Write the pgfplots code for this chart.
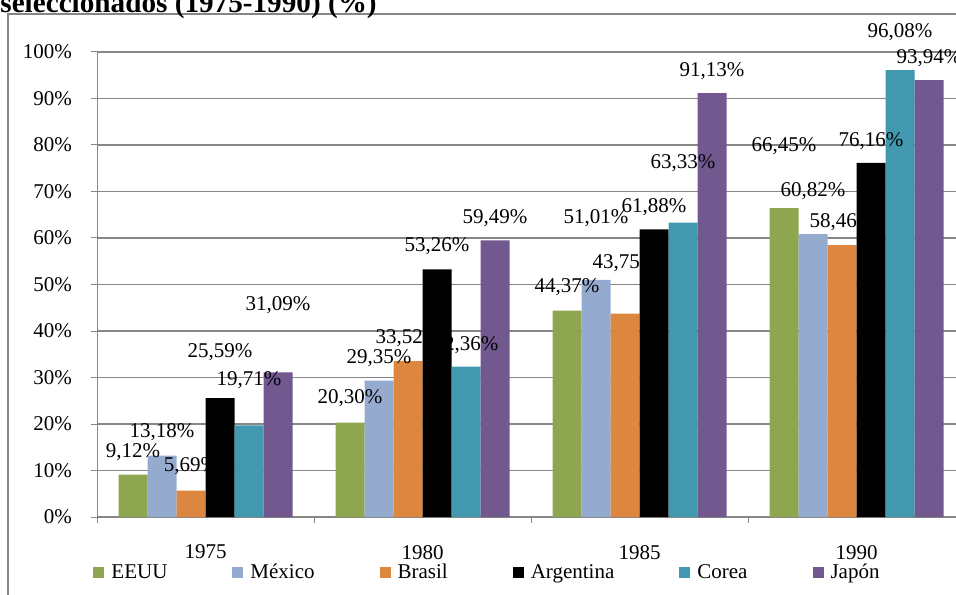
\documentclass[border=0pt]{standalone}
\usepackage{pgfplots}
\pgfplotsset{compat=1.18}
\usepackage{fontspec}
\setmainfont{Liberation Serif}
\definecolor{cEEUU}{HTML}{8DA64F}
\definecolor{cMex}{HTML}{95AACF}
\definecolor{cBra}{HTML}{DD8640}
\definecolor{cArg}{HTML}{000000}
\definecolor{cCor}{HTML}{4198AF}
\definecolor{cJap}{HTML}{71588F}
\definecolor{gridc}{HTML}{868686}
\newcommand{\lab}[3]{\node[font=\fontsize{10.5}{12}\selectfont, inner sep=0pt] at (axis cs:#1,#2) {#3};}
\begin{document}
\begin{tikzpicture}
\draw[gridc, line width=1pt] (3.75pt,-20pt) rectangle (520pt,290pt);
\node[anchor=base west, inner sep=0pt, font=\bfseries\fontsize{14.6}{17}\selectfont] at (0pt,290.5pt) {seleccionados (1975-1990) (\%)};
\begin{axis}[
  at={(48.5pt,38.5pt)}, anchor=south west,
  scale only axis, width=434pt, height=232.5pt,
  xmin=-0.5, xmax=3.5, ymin=0, ymax=100,
  enlargelimits=false, clip=false,
  axis lines=left, axis line style={-},
  x axis line style={gridc, line width=1pt},
  y axis line style={gridc, line width=0.5pt},
  ybar=0pt, bar width=14.5pt,
  ytick={0,10,...,100},
  yticklabels={0\%,10\%,20\%,30\%,40\%,50\%,60\%,70\%,80\%,90\%,100\%},
  xtick={0,1,2,3}, xticklabels={1975,1980,1985,1990},
  minor xtick={-0.5,0.5,1.5,2.5,3.5},
  tick align=outside, major tick length=3pt, minor tick length=3pt,
  x tick style={draw=none},
  minor x tick style={draw=gridc, line width=0.5pt},
  y tick style={gridc, line width=0.5pt},
  ymajorgrids, grid style={gridc, line width=0.6pt},
  xticklabel shift=7.5pt, yticklabel shift=6pt,
  tick label style={font=\fontsize{10.5}{12}\selectfont},
  /pgf/number format/assume math mode=true,
  legend columns=6,
  legend style={draw=none, fill=none, inner sep=0pt, at={(axis description cs:-0.0045,-0.1204)}, anchor=west,
    font=\fontsize{10.5}{12}\selectfont,
    /tikz/every odd column/.append style={column sep=1.5pt},
    /tikz/every even column/.append style={column sep=30.5pt}},
  legend image code/.code={\fill[#1, draw=none] (0pt,-2.75pt) rectangle (5.5pt,2.75pt);},
]
\addplot[fill=cEEUU, draw=none] coordinates {(0,9.12) (1,20.30) (2,44.37) (3,66.45)};
\addplot[fill=cMex, draw=none] coordinates {(0,13.18) (1,29.35) (2,51.01) (3,60.82)};
\addplot[fill=cBra, draw=none] coordinates {(0,5.69) (1,33.52) (2,43.75) (3,58.46)};
\addplot[fill=cArg, draw=none] coordinates {(0,25.59) (1,53.26) (2,61.88) (3,76.16)};
\addplot[fill=cCor, draw=none] coordinates {(0,19.71) (1,32.36) (2,63.33) (3,96.08)};
\addplot[fill=cJap, draw=none] coordinates {(0,31.09) (1,59.49) (2,91.13) (3,93.94)};
\legend{EEUU,México,Brasil,Argentina,Corea,Japón}
% data labels (placed as in the reference)
\lab{-0.3341}{13.98}{9,12\%}
\lab{-0.2005}{18.28}{13,18\%}
\lab{-0.0668}{10.97}{5,69\%}
\lab{0.0668}{35.48}{25,59\%}
\lab{0.2005}{29.46}{19,71\%}
\lab{0.3341}{45.59}{31,09\%}
\lab{0.6659}{25.59}{20,30\%}
\lab{0.7995}{34.19}{29,35\%}
\lab{0.9332}{38.49}{33,52\%}
\lab{1.0668}{58.28}{53,26\%}
\lab{1.2005}{36.99}{32,36\%}
\lab{1.3341}{64.30}{59,49\%}
\lab{1.6659}{49.46}{44,37\%}
\lab{1.7995}{64.30}{51,01\%}
\lab{1.9332}{54.62}{43,75\%}
\lab{2.0668}{66.67}{61,88\%}
\lab{2.2005}{76.13}{63,33\%}
\lab{2.3341}{95.91}{91,13\%}
\lab{2.6659}{79.78}{66,45\%}
\lab{2.7995}{70.11}{60,82\%}
\lab{2.9332}{63.44}{58,46\%}
\lab{3.0668}{80.86}{76,16\%}
\lab{3.2005}{104.30}{96,08\%}
\lab{3.3341}{98.71}{93,94\%}
\end{axis}
\pgfresetboundingbox
\useasboundingbox (0pt,0pt) rectangle (478pt,297pt);
\end{tikzpicture}
\end{document}
